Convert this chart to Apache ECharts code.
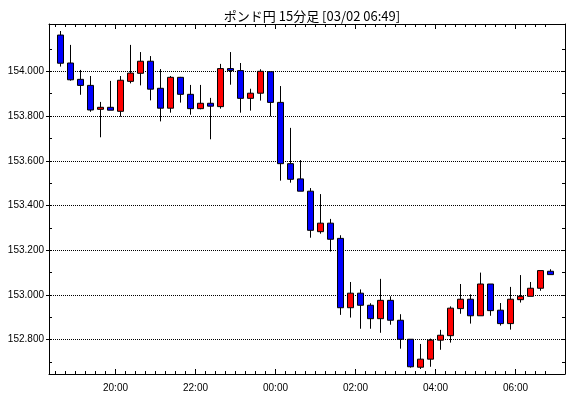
<!DOCTYPE html>
<html>
<head>
<meta charset="utf-8">
<title>ポンド円 15分足</title>
<script src="https://cdn.jsdelivr.net/npm/echarts@6/dist/echarts.min.js"></script>
<style>
  html, body { margin: 0; padding: 0; background: #fff; }
  #chart { width: 570px; height: 398px; }
</style>
</head>
<body>
<div id="chart"></div>
<script>
// 15分足の時刻（最後の 07:00 は空き枠）
const times = [
  '18:30', '18:45', '19:00', '19:15', '19:30', '19:45',
  '20:00', '20:15', '20:30', '20:45', '21:00', '21:15', '21:30', '21:45',
  '22:00', '22:15', '22:30', '22:45', '23:00', '23:15', '23:30', '23:45',
  '00:00', '00:15', '00:30', '00:45', '01:00', '01:15', '01:30', '01:45',
  '02:00', '02:15', '02:30', '02:45', '03:00', '03:15', '03:30', '03:45',
  '04:00', '04:15', '04:30', '04:45', '05:00', '05:15', '05:30', '05:45',
  '06:00', '06:15', '06:30', '06:45', '07:00'
]
const hourLabels = ['20:00', '22:00', '00:00', '02:00', '04:00', '06:00']

// 四本値
const opens = [
  154.162, 154.037, 153.964, 153.937, 153.830, 153.839, 153.821, 153.955, 153.991, 154.045,
  153.924, 153.835, 153.973, 153.897, 153.833, 153.857, 153.842, 154.012, 154.003, 153.879,
  153.902, 153.998, 153.861, 153.587, 153.519, 153.464, 153.283, 153.321, 153.253, 152.943,
  153.008, 152.954, 152.894, 152.976, 152.887, 152.802, 152.677, 152.713, 152.798, 152.818,
  152.939, 152.981, 152.907, 153.049, 152.932, 152.872, 152.979, 152.994, 153.030, 153.106
]
const closes = [
  154.036, 153.962, 153.937, 153.827, 153.839, 153.826, 153.960, 153.992, 154.045, 153.920,
  153.835, 153.973, 153.897, 153.833, 153.857, 153.844, 154.012, 154.003, 153.879, 153.902,
  154.000, 153.861, 153.587, 153.517, 153.464, 153.289, 153.321, 153.249, 152.943, 153.008,
  152.954, 152.894, 152.976, 152.887, 152.802, 152.679, 152.713, 152.798, 152.820, 152.941,
  152.981, 152.907, 153.049, 152.930, 152.872, 152.981, 152.994, 153.030, 153.109, 153.091
]
const lows = [
  154.021, 153.958, 153.895, 153.819, 153.705, 153.826, 153.797, 153.946, 153.937, 153.870,
  153.776, 153.815, 153.860, 153.806, 153.830, 153.696, 153.833, 153.940, 153.815, 153.824,
  153.869, 153.798, 153.511, 153.502, 153.464, 153.256, 153.274, 153.194, 152.911, 152.899,
  152.849, 152.849, 152.831, 152.867, 152.760, 152.675, 152.669, 152.679, 152.755, 152.787,
  152.916, 152.872, 152.907, 152.907, 152.863, 152.845, 152.966, 152.994, 153.019, 153.091
]
const highs = [
  154.180, 154.118, 154.006, 153.979, 153.863, 153.957, 153.979, 154.118, 154.086, 154.068,
  154.010, 153.979, 153.975, 153.939, 153.939, 153.881, 154.033, 154.086, 154.037, 153.922,
  154.009, 153.998, 153.934, 153.747, 153.603, 153.478, 153.451, 153.340, 153.267, 153.058,
  153.025, 152.963, 153.072, 152.994, 152.914, 152.802, 152.781, 152.805, 152.844, 152.949,
  153.049, 153.003, 153.100, 153.049, 152.964, 153.036, 153.089, 153.058, 153.109, 153.115
]

// 表示範囲と目盛り
const yMin = 152.6467
const yMax = 154.2114
const labelMin = 152.8
const labelMax = 154.0
const labelStep = 0.2
const minorMin = 152.7
const minorMax = 154.1
const minorStep = 0.1

const plot = { left: 49, top: 24, width: 516, height: 350 }
const yPix = (v) => plot.top + (yMax - v) / (yMax - yMin) * plot.height

const data = opens.map((o, i) => [o, closes[i], lows[i], highs[i]])

const black = '#000'
const font = { fontFamily: 'Liberation Sans', fontSize: 10, color: black }
const isMinor = (i) => i < data.length
const isHour = (i, v) => hourLabels.includes(v)

function catAxis(position, tickLen, tickFn, showLabel) {
  return {
    type: 'category', gridIndex: 0, position, data: times, boundaryGap: true,
    axisLine: { show: false },
    axisTick: { show: true, inside: true, length: tickLen, interval: tickFn, lineStyle: { color: black, width: 1 } },
    axisLabel: showLabel
      ? { show: true, interval: tickFn, margin: 9, padding: [0, 10, 0, 0], ...font }
      : { show: false },
    splitLine: { show: false }
  }
}
function frameX(position) {
  return {
    type: 'value', gridIndex: 1, position, min: 0, max: 1,
    axisLine: { show: true, onZero: false, lineStyle: { color: black, width: 1 } },
    axisTick: { show: false }, axisLabel: { show: false }, splitLine: { show: false }
  }
}
function frameY(position) {
  return {
    type: 'value', gridIndex: 1, position, min: 0, max: 1,
    axisLine: { show: true, onZero: false, lineStyle: { color: black, width: 1 } },
    axisTick: { show: false }, axisLabel: { show: false }, splitLine: { show: false }
  }
}
function minorY(position) {
  return {
    type: 'value', gridIndex: 3, position, min: minorMin, max: minorMax, interval: minorStep,
    axisLine: { show: false, onZero: false },
    axisTick: { show: true, inside: true, length: 3, lineStyle: { color: black, width: 1 } },
    axisLabel: { show: false }, splitLine: { show: false }
  }
}
const hiddenX = (gridIndex) => ({ type: 'value', gridIndex, min: 0, max: 1, show: false })

const chart = echarts.init(document.getElementById('chart'))
chart.setOption({
  animation: false,
  backgroundColor: '#fff',
  title: {
    text: 'ポンド円 15分足 [03/02 06:49]',
    left: plot.left + plot.width / 2,
    top: 5,
    textAlign: 'center',
    textStyle: { fontFamily: 'Noto Sans CJK JP', fontSize: 13, fontWeight: 'normal', color: black }
  },
  grid: [
    // ローソク足
    { left: 55.5, top: plot.top, width: 510, height: plot.height },
    // 外枠
    { left: plot.left, top: plot.top, width: plot.width, height: plot.height },
    // 価格ラベル・点線
    { left: plot.left, width: plot.width, top: yPix(labelMax), height: yPix(labelMin) - yPix(labelMax) },
    // 補助目盛り
    { left: plot.left, width: plot.width, top: yPix(minorMax), height: yPix(minorMin) - yPix(minorMax) }
  ],
  xAxis: [
    catAxis('bottom', 3, isMinor, false),
    catAxis('top', 3, isMinor, false),
    catAxis('bottom', 5, isHour, true),
    catAxis('top', 5, isHour, false),
    frameX('bottom'),
    frameX('top'),
    hiddenX(2),
    hiddenX(3)
  ],
  yAxis: [
    { type: 'value', gridIndex: 0, min: yMin, max: yMax, show: false },
    frameY('left'),
    frameY('right'),
    {
      type: 'value', gridIndex: 2, position: 'left', min: labelMin, max: labelMax, interval: labelStep,
      axisLine: { show: false, onZero: false },
      axisTick: { show: true, inside: false, length: 3, lineStyle: { color: black, width: 1 } },
      axisLabel: { show: true, margin: 5, formatter: (v) => v.toFixed(3), ...font },
      splitLine: { show: true, lineStyle: { color: black, width: 1, type: 'dotted' } }
    },
    minorY('left'),
    minorY('right')
  ],
  series: [{
    type: 'candlestick',
    xAxisIndex: 0,
    yAxisIndex: 0,
    data: data,
    barWidth: 6,
    itemStyle: {
      color: '#ff0000',
      color0: '#0000ff',
      borderColor: black,
      borderColor0: black,
      borderWidth: 1
    }
  }]
})
</script>
</body>
</html>
